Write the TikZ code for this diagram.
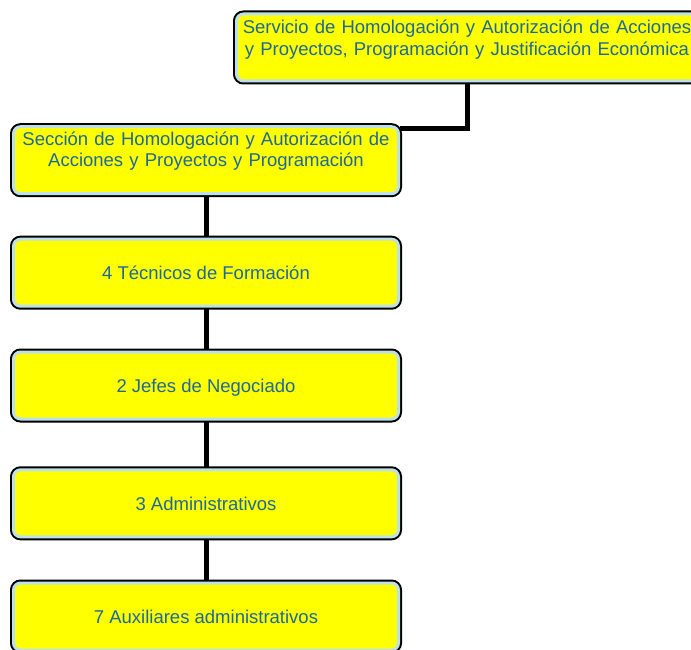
\documentclass[tikz,border=0pt]{standalone}
\usepackage{fontspec}
\setmainfont{Liberation Sans}
\usetikzlibrary{backgrounds}
\definecolor{boxyellow}{RGB}{255,255,0}
\definecolor{boxrim}{RGB}{190,224,232}
\definecolor{boxtext}{RGB}{30,104,156}
\newcommand{\orgfont}{\fontsize{18.5}{21.3}\selectfont}
\tikzset{
  orgbox/.style={rectangle, rounded corners=7pt, fill=boxyellow, draw=boxrim, line width=3pt,
    preaction={draw=black, line width=7pt}, text=boxtext, font=\orgfont, align=center,
    inner sep=0pt, minimum width=385pt, minimum height=67pt, text height=13.4pt, text depth=0pt},
  twoline/.style={text height=18.8pt, text depth=#1},
  link/.style={draw=black, line width=5pt}
}
\begin{document}
\begin{tikzpicture}[x=1pt,y=-1pt]
\useasboundingbox (0,0) rectangle (691,650);
\clip (0,0) rectangle (691,650);
\node[orgbox, twoline=46.3pt, text width=455pt, minimum width=461pt](serv) at (467,47.5) {Servicio de Homologación y Autorización de Acciones\\y Proyectos, Programación y Justificación Económica};
\node[orgbox, twoline=47.8pt, text width=380pt](secc) at (206,160.2) {Sección de Homologación y Autorización de\\Acciones y Proyectos y Programación};
\node[orgbox](tec) at (206,272.7) {4 Técnicos de Formación};
\node[orgbox](jef) at (206,385.5) {2 Jefes de Negociado};
\node[orgbox](adm) at (206,503.3) {3 Administrativos};
\node[orgbox](aux) at (206,616.5) {7 Auxiliares administrativos};
\begin{scope}[on background layer]
\draw[link] (serv.south) |- ([yshift=-3pt]secc.north east);
\draw[link] (secc.south) -- (tec.north);
\draw[link] (tec.south) -- (jef.north);
\draw[link] (jef.south) -- (adm.north);
\draw[link] (adm.south) -- (aux.north);
\end{scope}
\end{tikzpicture}
\end{document}
